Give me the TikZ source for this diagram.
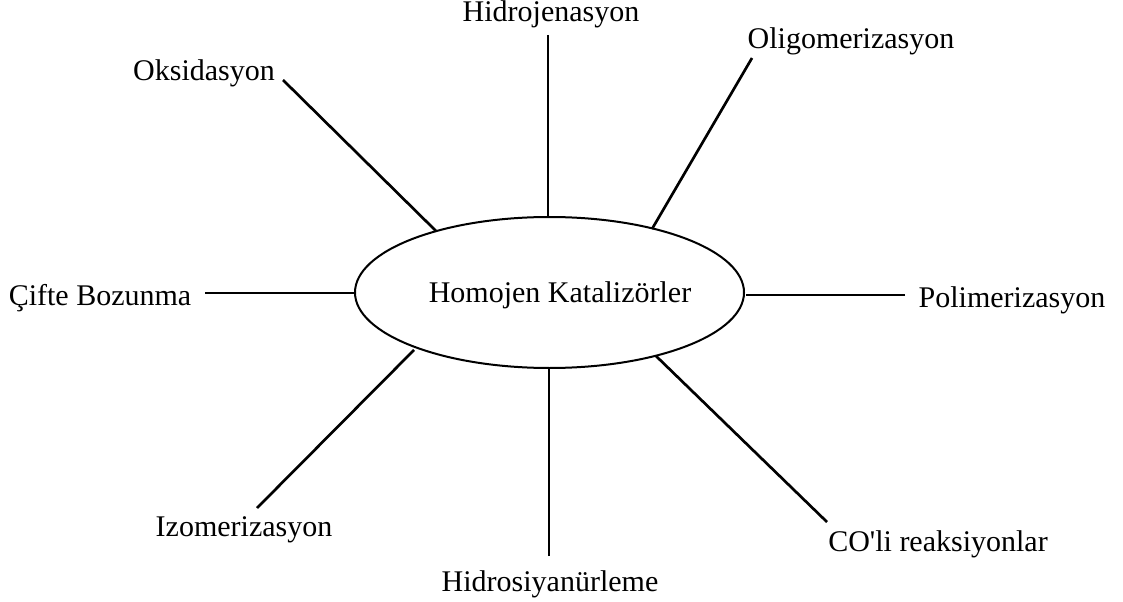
\documentclass[tikz,border=0pt]{standalone}
\usepackage{fontspec}
\setmainfont{Liberation Serif}[Ligatures=TeXOff]
\usetikzlibrary{shapes.geometric}
\begin{document}
\begin{tikzpicture}[x=0.75pt,y=-0.75pt,
  lbl/.style={anchor=base,inner sep=0pt,font=\fontsize{22.5}{27}\selectfont},
  spoke/.style={line width=2pt},
  hub/.style={ellipse,draw,line width=1.5pt,minimum width=291.75pt,minimum height=113.25pt,inner sep=0pt,font=\fontsize{22.5}{27}\selectfont}]
\useasboundingbox (0,0) rectangle (1123,602);
\node[hub] (e) at (549.5,292.5) {};
\node[lbl] (t) at (560,302) {Homojen Katalizörler};
\node[lbl] (hid) at (551,22) {Hidrojenasyon};
\node[lbl] (oli) at (851,49) {Oligomerizasyon};
\node[lbl] (oks) at (204,81) {Oksidasyon};
\node[lbl] (cif) at (100,305) {Çifte Bozunma};
\node[lbl] (pol) at (1012,307) {Polimerizasyon};
\node[lbl] (izo) at (244,536) {Izomerizasyon};
\node[lbl] (hcn) at (550,591) {Hidrosiyanürleme};
\node[lbl] (col) at (938,551) {CO'li reaksiyonlar};
\coordinate (a1) at (548,35);  \coordinate (b1) at (548,217);
\coordinate (a2) at (752,58);  \coordinate (b2) at (652,229);
\coordinate (a3) at (283,80);  \coordinate (b3) at (436,231);
\coordinate (a4) at (205,293); \coordinate (b4) at (355,293);
\coordinate (a5) at (905,295); \coordinate (b5) at (746,295);
\coordinate (a6) at (257,508); \coordinate (b6) at (414,350);
\coordinate (a7) at (549,556); \coordinate (b7) at (549,368);
\coordinate (a8) at (827,522); \coordinate (b8) at (656,356);
\foreach \i in {1,...,8} {\draw[spoke] (a\i) -- (b\i);}
\end{tikzpicture}
\end{document}
